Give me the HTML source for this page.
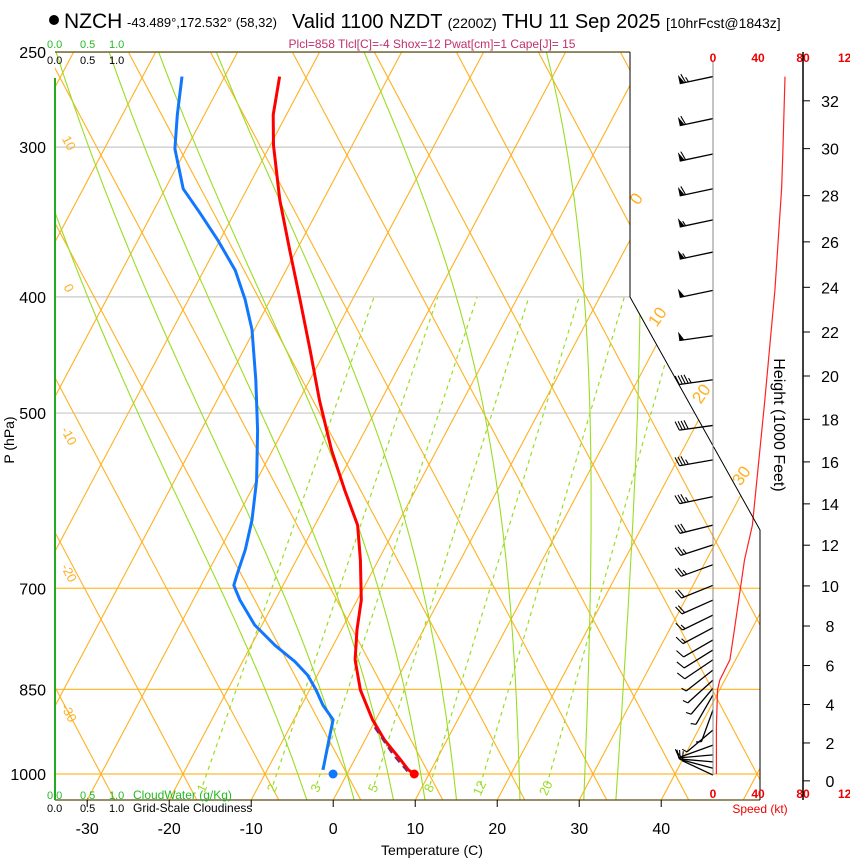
<!DOCTYPE html>
<html><head><meta charset="utf-8"><style>
body{margin:0;background:#fff;}
svg{display:block;font-family:"Liberation Sans",sans-serif;}
</style></head><body>
<svg id="chart" width="850" height="860" viewBox="0 0 850 860" xmlns="http://www.w3.org/2000/svg">
<defs><clipPath id="plotclip"><polygon points="55,52 630,52 630,297 760,530 760,800 55,800"/></clipPath></defs>
<g>
<circle cx="54" cy="20" r="5" fill="#000"/>
<text x="64" y="28" font-size="21">NZCH</text>
<text x="127" y="27" font-size="13">-43.489°,172.532° (58,32)</text>
<text x="292" y="28" font-size="20">Valid 1100 NZDT <tspan font-size="14">(2200Z)</tspan> THU 11 Sep 2025 <tspan font-size="14">[10hrFcst@1843z]</tspan></text>
<text x="432" y="48" font-size="12" fill="#c0306a" text-anchor="middle">Plcl=858 Tlcl[C]=-4 Shox=12 Pwat[cm]=1 Cape[J]= 15</text>
</g>
<g id="grid" clip-path="url(#plotclip)"></g>
<g id="profiles"></g>
<g id="frame">
<line x1="55" y1="52" x2="630" y2="52" stroke="#5a4a10" stroke-width="1.2"/>
<line x1="55" y1="800" x2="760" y2="800" stroke="#5a4a10" stroke-width="1.2"/>
<polyline points="630,52 630,297 760,530 760,800" fill="none" stroke="#000" stroke-width="1"/>
<line x1="55" y1="78" x2="55" y2="800" stroke="#22aa22" stroke-width="2"/>
</g>
<g font-size="11">
<text x="47" y="48" fill="#22bb22">0.0</text><text x="80" y="48" fill="#22bb22">0.5</text><text x="109" y="48" fill="#22bb22">1.0</text>
<text x="47" y="64">0.0</text><text x="80" y="64">0.5</text><text x="109" y="64">1.0</text>
<text x="47" y="799" fill="#22bb22">0.0</text><text x="80" y="799" fill="#22bb22">0.5</text><text x="109" y="799" fill="#22bb22">1.0</text>
<text x="133" y="799" fill="#22bb22" font-size="12">CloudWater (g/Kg)</text>
<text x="47" y="812">0.0</text><text x="80" y="812">0.5</text><text x="109" y="812">1.0</text>
<text x="133" y="812" font-size="12">Grid-Scale Cloudiness</text>
</g>
<g id="axes"></g>
<text x="432" y="855" font-size="14" text-anchor="middle">Temperature (C)</text>
<text transform="translate(14,440) rotate(-90)" font-size="14" text-anchor="middle">P (hPa)</text>
<text transform="translate(774,425) rotate(90)" font-size="16" text-anchor="middle">Height (1000 Feet)</text>
<text x="760" y="813" font-size="12" fill="#ee0000" text-anchor="middle">Speed (kt)</text>
<script>
// ---- data ----
const tempP = [262,282,299,332,366,402,443,488,537,580,620,663,716,758,803,851,901,937,973,992,1000];
const tempT = [-53.3,-51.6,-49.6,-45.3,-40.8,-36.4,-31.9,-27.5,-22.8,-18.6,-14.8,-12.2,-9.5,-8.1,-6.4,-3.8,-0.4,2.4,5.6,7.2,8.2];
const dewP = [262,282,301,325,340,359,380,402,426,469,517,569,614,650,682,696,716,751,781,806,827,851,876,901,937,973,992];
const dewT = [-65.2,-63.3,-61.4,-57.8,-54.3,-50.2,-46.2,-43.1,-40.3,-36.6,-33.1,-30.0,-28.0,-26.9,-26.3,-26.0,-24.3,-20.9,-17.1,-13.6,-11.2,-9.2,-7.4,-5.2,-4.4,-3.6,-3.2];
const sfcT = 8.2;
const sfcTd = -1.7;
const parcelP = [995,964,910];
const parcelT = [7.2,4.4,0.0];
const spdP = [262,304,325,395,488,620,663,758,803,835,851,914,1000];
const spdV = [64,62,61,55,46,35,28,19,15,6,4,3,3];
const barbP = [262,284,304,325,345,367,395,431,469,512,547,587,620,644,669,696,716,737,755,773,788,803,819,835,848,859,884,919,946,964,977,989,1002];
const barbSpd = [64,62,61,58,57,56,52,48,44,40,37,33,29,26,24,20,18,16,14,12,10,8,7,6,5,5,4,5,6,8,10,10,10];
const barbDir = [258,258,258,258,258,258,258,262,262,262,260,258,256,252,250,248,246,244,242,240,238,236,232,228,220,210,200,230,250,265,275,285,295];
const pressureTicks = [250,300,400,500,700,850,1000];
const tempTicks = [-30,-20,-10,0,10,20,30,40];
const heightTicks = [0,2,4,6,8,10,12,14,16,18,20,22,24,26,28,30,32];
const mixRatios = [1,2,3,5,8,12,20];
const moistThetaW = [-6,0,5,9,13,21,29,33];
// ---- axis functions ----
const NS='http://www.w3.org/2000/svg';
function yP(p){return 774-520.7*Math.log(1000/p);}
function xT(T,p){return 347+8.2*T+0.53*(774-yP(p));}
function xSpd(v){return 713+1.125*v;}
function mk(tag,parent,attrs){const e=document.createElementNS(NS,tag);for(const k in attrs)e.setAttribute(k,attrs[k]);parent.appendChild(e);return e;}
const grid=document.getElementById('grid');
const prof=document.getElementById('profiles');
const axes=document.getElementById('axes');
// horizontal pressure lines
pressureTicks.forEach(p=>{
  const warm=(p>=700);
  const l=mk('line',grid,{x1:55,x2:760,y1:yP(p),y2:yP(p),stroke:warm?'#ffbb33':'#c8c8c8','stroke-width':1.2});
  
  
});
// isotherms (up-right)
for(let T=-130;T<=60;T+=10){
  const l=mk('line',grid,{x1:xT(T,1060),y1:yP(1060),x2:xT(T,240),y2:yP(240),stroke:'#ffb020','stroke-width':1.1});
  
  
}
// up-left family
for(let th=-40;th<=200;th+=10){
  const y1=810,y2=40;
  const l=mk('line',grid,{x1:347+8.2*th-0.53*(774-y1),y1:y1,x2:347+8.2*th-0.53*(774-y2),y2:y2,stroke:'#ffb020','stroke-width':1.1});
  
  
}
// moist adiabats
function es(Tc){return 6.112*Math.exp(17.67*Tc/(Tc+243.5));}
function dTdp(TK,p){const e=es(TK-273.15);const rs=0.622*e/(p-e);const L=2.5e6,Rd=287,Cp=1005;return (Rd*TK+L*rs)/(p*(Cp+L*L*rs*0.622/(Rd*TK*TK)));}
moistThetaW.forEach(tw=>{
  let pts=[];let T=tw+273.15;
  // down to 1060
  let Td=T;for(let p=1000;p<1060;p+=5){Td+=dTdp(Td,p)*5;}
  pts.push([xT(Td-273.15,1060),yP(1060)]);
  for(let p=1000;p>=240;p-=5){if(p===1000)pts.push([xT(T-273.15,p),yP(p)]);T-=dTdp(T,p)*5;pts.push([xT(T-273.15,p-5),yP(p-5)]);}
  const l=mk('polyline',grid,{points:pts.map(q=>q[0].toFixed(1)+','+q[1].toFixed(1)).join(' '),fill:'none',stroke:'#99dd22','stroke-width':1.1});
  
  
});
// mixing ratio lines
function tdFromW(w,p){const e=w*p/(622+w);const a=Math.log(e/6.112);return 243.5*a/(17.67-a);}
mixRatios.forEach(w=>{
  const l=mk('line',grid,{x1:xT(tdFromW(w,1021),1021),y1:yP(1021),x2:xT(tdFromW(w,400),400),y2:yP(400),stroke:'#99dd22','stroke-width':1.2,'stroke-dasharray':'4,4'});
  
  
  const x=xT(tdFromW(w,1021),1021)+3;
  const t=mk('text',grid,{transform:'translate('+x+',790) rotate(-65)','font-size':13,fill:'#99dd22','text-anchor':'middle'});
  t.textContent=w;
  
  
});
// orange labels
[[10,65,145],[0,65,290],[-10,65,438],[-20,65,575],[-30,65,715]].forEach(a=>{
  const t=mk('text',grid,{transform:'translate('+a[1]+','+a[2]+') rotate(62)','font-size':13,fill:'#ffb020','text-anchor':'middle'});
  t.textContent=a[0];
  
  
});
[[0,641,202],[10,662,320],[20,706,397],[30,746,479]].forEach(a=>{
  const t=mk('text',axes,{transform:'translate('+a[1]+','+a[2]+') rotate(-55)','font-size':17,fill:'#ffb020','text-anchor':'middle'});
  t.textContent=a[0];
  
  
});
// profiles
function pathOf(P,T){return P.map((p,i)=>xT(T[i],p).toFixed(1)+','+yP(p).toFixed(1)).join(' ');}
let el=mk('polyline',prof,{points:pathOf(tempP,tempT),fill:'none',stroke:'#ff0000','stroke-width':3,'stroke-linejoin':'round'});


el=mk('polyline',prof,{points:pathOf(dewP,dewT),fill:'none',stroke:'#1177ff','stroke-width':3,'stroke-linejoin':'round'});


el=mk('polyline',prof,{points:pathOf(parcelP,parcelT),fill:'none',stroke:'#882266','stroke-width':2,'stroke-dasharray':'7,5'});


el=mk('circle',prof,{cx:xT(sfcT,1000),cy:yP(1000),r:4.5,fill:'#ff0000'});


el=mk('circle',prof,{cx:xT(sfcTd,1000),cy:yP(1000),r:4.5,fill:'#1177ff'});


// wind speed
el=mk('line',axes,{x1:713,y1:62,x2:713,y2:775,stroke:'#888','stroke-width':1});


el=mk('polyline',prof,{points:spdP.map((p,i)=>xSpd(spdV[i]).toFixed(1)+','+yP(p).toFixed(1)).join(' '),fill:'none',stroke:'#ff2222','stroke-width':1.2});


// barbs
barbP.forEach((p,i)=>{
  const g=mk('g',prof,{});
  
  
  const d=barbDir[i]*Math.PI/180;const sx=Math.sin(d),sy=-Math.cos(d);
  const bx=713,by=yP(p),L=34;
  const ex=bx+sx*L,ey=by+sy*L;
  mk('line',g,{x1:bx,y1:by,x2:ex,y2:ey,stroke:'#000','stroke-width':1.3});
  const px=-sy,py=sx; // perpendicular
  let s=Math.round(barbSpd[i]/5)*5;let pos=0;
  const at=k=>[ex-sx*k,ey-sy*k];
  while(s>=50){const a=at(pos),b=at(pos+5);mk('polygon',g,{points:a[0]+','+a[1]+' '+(a[0]+px*9)+','+(a[1]+py*9)+' '+b[0]+','+b[1],fill:'#000'});pos+=6;s-=50;}
  while(s>=10){const a=at(pos);mk('line',g,{x1:a[0],y1:a[1],x2:a[0]+px*9+sx*3,y2:a[1]+py*9+sy*3,stroke:'#000','stroke-width':1.1});pos+=3;s-=10;}
  if(s>=5){const a=at(pos);mk('line',g,{x1:a[0],y1:a[1],x2:a[0]+px*5+sx*2,y2:a[1]+py*5+sy*2,stroke:'#000','stroke-width':1.1});}
});
// speed axis labels
[0,40,80,120].forEach(v=>{
  [62,798].forEach(y=>{
    const t=mk('text',axes,{x:xSpd(v),y:y,'font-size':12,fill:'#ee0000','text-anchor':'middle','font-weight':'bold'});
    t.textContent=v;
    
    
  });
});
// height axis
el=mk('line',axes,{x1:803,y1:52,x2:803,y2:800,stroke:'#000','stroke-width':1.5});


heightTicks.forEach(h=>{
  const z=h*304.8;const p=1013.25*Math.pow(1-6.5e-3*z/288.15,5.2559);const y=yP(p);
  mk('line',axes,{x1:803,y1:y,x2:810,y2:y,stroke:'#000','stroke-width':1});
  const t=mk('text',axes,{x:830,y:y+6,'font-size':16,'text-anchor':'middle'});
  t.textContent=h;
  
  
});
// pressure labels
pressureTicks.forEach(p=>{
  const t=mk('text',axes,{x:46,y:yP(p)+6,'font-size':16,'text-anchor':'end'});
  t.textContent=p;
  
  
});
// temperature ticks
tempTicks.forEach(T=>{
  const x=347+8.2*T-0.53*26;
  mk('line',axes,{x1:x,y1:800,x2:x,y2:807,stroke:'#000','stroke-width':1});
  const t=mk('text',axes,{x:x,y:834,'font-size':16,'text-anchor':'middle'});
  t.textContent=T;
  
  
});
</script>
</svg>
</body></html>
